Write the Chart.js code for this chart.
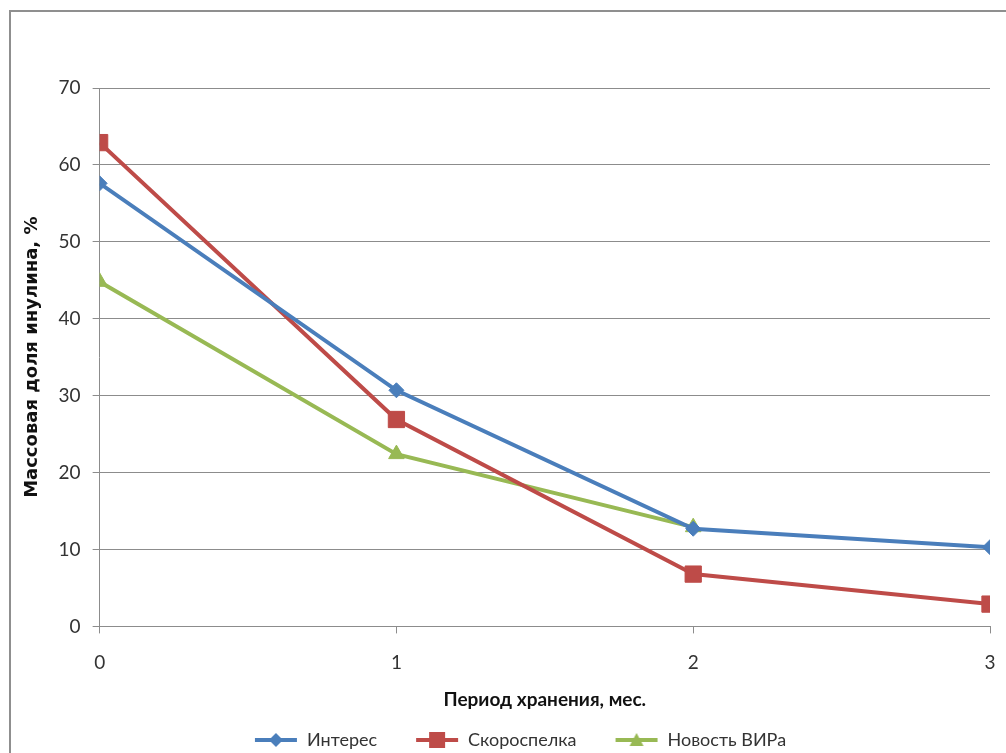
<!DOCTYPE html>
<html>
<head>
<meta charset="utf-8">
<script src="https://cdn.jsdelivr.net/npm/chart.js@4/dist/chart.umd.min.js"></script>
<style>
    html, body { margin: 0; padding: 0; background: #fff; }
    #wrap { width: 1006px; height: 753px; }
</style>
</head>
<body>
<div id="wrap"><canvas id="grafica"></canvas></div>
<script>
// Массовая доля инулина по периодам хранения

var periodos = [0, 1, 2, 3];
var valoresInteres = [57.6, 30.7, 12.7, 10.3];
var valoresSkorospelka = [62.9, 26.9, 6.8, 2.9];
var valoresNovost = [44.8, 22.4, 12.9];
var nombresSeries = ['Интерес', 'Скороспелка', 'Новость ВИРа'];
var ticksY = [0, 10, 20, 30, 40, 50, 60, 70];

var azul = '#4a7ebb';
var rojo = '#be4b48';
var verde = '#98b954';
var fuente = 'Lato, "Open Sans", sans-serif';

// Convierte una lista de valores en puntos {x, y}.
function puntos(valores) {
    var res = [];
    for (var i = 0; i < valores.length; i++) {
        res.push({ x: periodos[i], y: valores[i] });
    }
    return res;
}

// Icono de la leyenda: línea con marcador (con margen izquierdo en blanco).
function iconoLeyenda(color, estilo) {
    var m = 28;
    var c = document.createElement('canvas');
    c.width = 44 + m;
    c.height = 18;
    var ctx = c.getContext('2d');
    ctx.strokeStyle = color;
    ctx.fillStyle = color;
    ctx.lineWidth = 4;
    ctx.beginPath();
    ctx.moveTo(m + 1, 9);
    ctx.lineTo(m + 43, 9);
    ctx.stroke();
    ctx.beginPath();
    if (estilo === 'rectRot') {
        ctx.moveTo(m + 22, 2); ctx.lineTo(m + 29, 9); ctx.lineTo(m + 22, 16); ctx.lineTo(m + 15, 9);
    } else if (estilo === 'rect') {
        ctx.rect(m + 14, 1, 16, 16);
    } else {
        ctx.moveTo(m + 22, 2); ctx.lineTo(m + 29, 15); ctx.lineTo(m + 15, 15);
    }
    ctx.closePath();
    ctx.fill();
    return c;
}

function getDataSet(nombre, valores, color, estilo, radio) {
    return {
        label: nombre,
        data: puntos(valores),
        borderColor: color,
        backgroundColor: color,
        borderWidth: 4,
        pointStyle: estilo,
        pointRadius: radio,
        pointHoverRadius: radio,
        pointBorderWidth: 1,
        tension: 0,
        iconoLeyenda: iconoLeyenda(color, estilo)
    };
}

// Marco gris de la gráfica.
var marco = {
    id: 'marco',
    beforeDraw: function (chart) {
        var ctx = chart.ctx;
        ctx.save();
        ctx.strokeStyle = '#8f8f8f';
        ctx.lineWidth = 2;
        ctx.beginPath();
        ctx.moveTo(10, 753);
        ctx.lineTo(10, 11);
        ctx.lineTo(1006, 11);
        ctx.stroke();
        ctx.restore();
    }
};

var datasets = [
    getDataSet(nombresSeries[0], valoresInteres, azul, 'rectRot', 7.5),
    getDataSet(nombresSeries[1], valoresSkorospelka, rojo, 'rect', 11.5),
    getDataSet(nombresSeries[2], valoresNovost, verde, 'triangle', 9)
];

var chart = new Chart(document.getElementById('grafica').getContext('2d'), {
    type: 'line',
    data: { datasets: datasets },
    plugins: [marco],
    options: {
        responsive: true,
        maintainAspectRatio: false,
        animation: false,
        layout: { padding: { left: 22, right: 16, top: 88, bottom: -6 } },
        plugins: {
            tooltip: { enabled: false },
            legend: {
                position: 'bottom',
                labels: {
                    usePointStyle: true,
                    pointStyleWidth: 72,
                    padding: 10,
                    color: '#333',
                    font: { family: fuente, size: 18 },
                    generateLabels: function (c) {
                        return c.data.datasets.map(function (ds, i) {
                            return {
                                text: ds.label,
                                pointStyle: ds.iconoLeyenda,
                                fillStyle: ds.borderColor,
                                strokeStyle: ds.borderColor,
                                lineWidth: 0,
                                datasetIndex: i,
                                fontColor: '#333'
                            };
                        });
                    }
                }
            }
        },
        scales: {
            x: {
                type: 'linear',
                min: 0,
                max: 3,
                afterBuildTicks: function (axis) {
                    axis.ticks = periodos.map(function (v) { return { value: v }; });
                },
                // El padding de los ticks no debe encoger el área por la derecha.
                afterFit: function (axis) {
                    axis.paddingRight = 6;
                    axis.paddingLeft = 6;
                },
                grid: {
                    drawOnChartArea: false,
                    drawTicks: true,
                    tickLength: 7,
                    color: '#8c8c8c'
                },
                border: { color: '#8c8c8c', width: 1 },
                ticks: {
                    color: '#333',
                    padding: 18,
                    font: { family: fuente, size: 19 }
                },
                title: {
                    display: true,
                    text: 'Период хранения, мес.',
                    color: '#111',
                    font: { family: fuente, size: 19, weight: 'bold' },
                    padding: { top: -4, bottom: 10 }
                }
            },
            y: {
                min: 0,
                max: 70,
                afterBuildTicks: function (axis) {
                    axis.ticks = ticksY.map(function (v) { return { value: v }; });
                },
                grid: {
                    color: '#8c8c8c',
                    tickLength: 7
                },
                border: { color: '#8c8c8c', width: 1 },
                ticks: {
                    color: '#333',
                    padding: 12,
                    font: { family: fuente, size: 19 }
                },
                title: {
                    display: true,
                    text: 'Массовая доля инулина, %',
                    color: '#111',
                    font: { family: '"DejaVu Sans", sans-serif', size: 18, weight: 'bold' },
                    padding: { top: 0, bottom: 3 }
                }
            }
        }
    }
});
</script>
</body>
</html>
